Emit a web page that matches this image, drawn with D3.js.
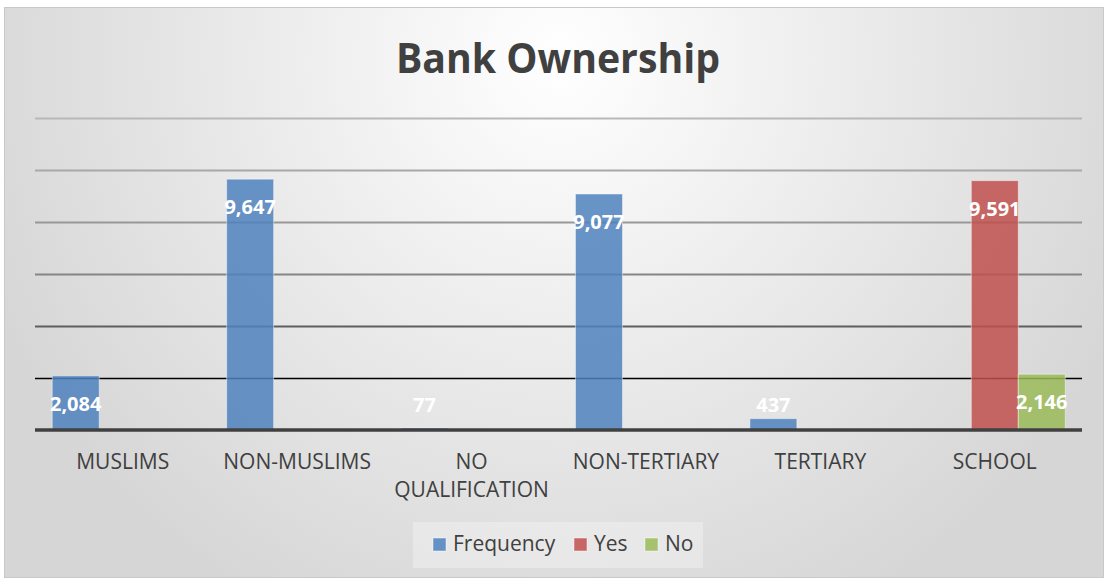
<!DOCTYPE html>
<html>
<head>
<meta charset="utf-8">
<script src="https://cdn.jsdelivr.net/npm/d3@7"></script>
<style>
  html, body { margin: 0; padding: 0; background: #ffffff; }
  svg { display: block; }
</style>
</head>
<body>
<svg id="chart" width="1108" height="578"></svg>
<script>
// ---- data ----
const categories = ["MUSLIMS", "NON-MUSLIMS", "NO QUALIFICATION", "NON-TERTIARY", "TERTIARY", "SCHOOL"];
const seriesNames = ["Frequency", "Yes", "No"];
const frequencyValues = [2084, 9647, 77, 9077, 437, null];
const yesValues = [null, null, null, null, null, 9591];
const noValues = [null, null, null, null, null, 2146];
const yTicks = [0, 2000, 4000, 6000, 8000, 10000, 12000];
const seriesColors = ["#4f81bd", "#c0504d", "#9bbb59"];

const seriesValues = [frequencyValues, yesValues, noValues];

const W = 1108, H = 578;
const svg = d3.select("#chart");

// ---- background ----
const defs = svg.append("defs");
const grad = defs.append("radialGradient")
  .attr("id", "bg").attr("gradientUnits", "userSpaceOnUse")
  .attr("cx", 560).attr("cy", 60).attr("r", 620);
grad.append("stop").attr("offset", "0%").attr("stop-color", "#ffffff");
grad.append("stop").attr("offset", "100%").attr("stop-color", "#d6d6d6");

svg.append("rect")
  .attr("x", 4.5).attr("y", 7.5).attr("width", W - 9).attr("height", H - 8)
  .attr("fill", "url(#bg)").attr("stroke", "#c9c9c9").attr("stroke-width", 1);

// ---- scales ----
const x0 = d3.scaleBand().domain(categories).range([35.5, 1082]).padding(0);
const x1 = d3.scaleBand().domain(seriesNames).range([0, x0.bandwidth()])
  .paddingInner(0).paddingOuter(0.356);
const y = d3.scaleLinear().domain([0, 12000]).range([430, 118]);

// ---- title ----
svg.append("text")
  .attr("x", 558).attr("y", 73)
  .attr("text-anchor", "middle")
  .attr("font-family", "'Open Sans', sans-serif")
  .attr("font-weight", 700)
  .attr("font-size", 41)
  .attr("textLength", 324)
  .attr("lengthAdjust", "spacingAndGlyphs")
  .attr("fill", "#404040")
  .text("Bank Ownership");

// ---- gridlines (darker toward the baseline) ----
const gridColors = { 2000: "#000000", 4000: "#5e5e5e", 6000: "#858585", 8000: "#989898", 10000: "#a8a8a8", 12000: "#b8b8b8" };
const gridAxis = d3.axisLeft(y).tickValues(yTicks.filter(t => t > 0))
  .tickSize(-(1082 - 35)).tickFormat("");
const gridG = svg.append("g").attr("transform", "translate(35,0)").call(gridAxis);
gridG.select(".domain").remove();
gridG.selectAll(".tick line")
  .attr("stroke", d => gridColors[d])
  .attr("stroke-width", d => d === 2000 ? 1.6 : 1.8);

// ---- bars ----
const barData = [];
categories.forEach((c, i) => {
  seriesNames.forEach((s, j) => {
    const v = seriesValues[j][i];
    if (v !== null && v !== undefined) barData.push({ cat: c, series: s, idx: j, value: v });
  });
});

const bars = svg.append("g");
bars.selectAll("rect").data(barData).enter().append("rect")
  .attr("x", d => x0(d.cat) + x1(d.series))
  .attr("y", d => y(d.value))
  .attr("width", x1.bandwidth())
  .attr("height", d => y(0) - y(d.value))
  .attr("fill", d => seriesColors[d.idx])
  .attr("fill-opacity", 0.85)
  .attr("stroke", "#ffffff")
  .attr("stroke-opacity", 0.45)
  .attr("stroke-width", 1);

// ---- baseline ----
const xAxis = d3.axisBottom(x0).tickSize(0).tickFormat("");
const xg = svg.append("g").attr("transform", "translate(0,430)").call(xAxis);
xg.select(".domain").attr("stroke", "#404040").attr("stroke-width", 3.5)
  .attr("d", "M35,0H1082");

// ---- value labels ----
const fmt = d3.format(",");
svg.append("g").selectAll("text").data(barData).enter().append("text")
  .attr("x", d => x0(d.cat) + x1(d.series) + x1.bandwidth() / 2)
  .attr("y", d => Math.min(y(d.value) + 28, 405))
  .attr("dy", "0.35em")
  .attr("text-anchor", "middle")
  .attr("font-family", "'Open Sans', sans-serif")
  .attr("font-weight", 700)
  .attr("font-size", 20)
  .attr("fill", "#ffffff")
  .text(d => fmt(d.value));

// ---- category labels ----
const catLabelLines = { "NO QUALIFICATION": ["NO", "QUALIFICATION"] };
const catG = svg.append("g");
categories.forEach(c => {
  const lines = catLabelLines[c] || [c];
  const t = catG.append("text")
    .attr("x", x0(c) + x0.bandwidth() / 2)
    .attr("y", 469)
    .attr("text-anchor", "middle")
    .attr("font-family", "'Open Sans', sans-serif")
    .attr("font-size", 21)
    .attr("fill", "#404040");
  lines.forEach((ln, k) => {
    t.append("tspan").attr("x", x0(c) + x0.bandwidth() / 2)
      .attr("dy", k === 0 ? 0 : 28).text(ln);
  });
});

// ---- legend ----
const legend = svg.append("g");
legend.append("rect")
  .attr("x", 413).attr("y", 522).attr("width", 290).attr("height", 46)
  .attr("fill", "#ffffff").attr("fill-opacity", 0.3);
const legendX = [433, 574, 645];
seriesNames.forEach((s, j) => {
  legend.append("rect")
    .attr("x", legendX[j]).attr("y", 538).attr("width", 13).attr("height", 13)
    .attr("fill", seriesColors[j]).attr("fill-opacity", 0.85)
    .attr("stroke", "#ffffff").attr("stroke-opacity", 0.45);
  legend.append("text")
    .attr("x", legendX[j] + 20).attr("y", 551)
    .attr("font-family", "'Open Sans', sans-serif")
    .attr("font-size", 21)
    .attr("fill", "#404040")
    .text(s);
});
</script>
</body>
</html>
